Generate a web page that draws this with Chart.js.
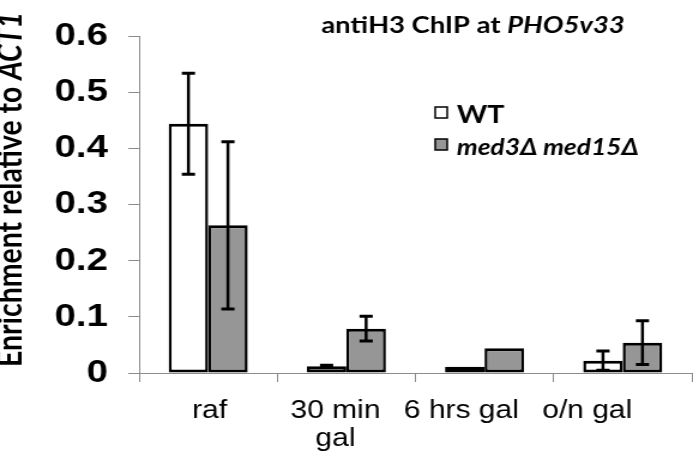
<!DOCTYPE html>
<html><head><meta charset="utf-8">
<script src="https://cdn.jsdelivr.net/npm/chart.js@4/dist/chart.umd.min.js"></script>
<style>
html,body{margin:0;padding:0;background:#fff;overflow:hidden;}
#wrap{width:578px;height:462px;transform:scaleX(1.19896);transform-origin:0 0;}
</style></head><body>
<div id="wrap"><canvas id="c" width="578" height="462"></canvas></div>
<script>
const categories = ['raf', ['30 min', 'gal'], '6 hrs gal', 'o/n gal'];
const seriesNames = ['WT', 'med3Δ med15Δ'];
const wtValues = [0.444, 0.012, 0.011, 0.022];
const wtErrors = [0.090, 0.002, 0, 0.017];
const medValues = [0.263, 0.079, 0.044, 0.054];
const medErrors = [0.149, 0.022, 0, 0.039];
const yTicks = [0, 0.1, 0.2, 0.3, 0.4, 0.5, 0.6];
const titleRuns = [['antiH3 ChIP at ', false], ['PHO5v33', true]];
const yTitleRuns = [['Enrichment relative to ', false], ['ACT1', true]];

const HUM = 'Lato, "Open Sans", sans-serif';
const ARIAL = '"Liberation Sans", Arial, sans-serif';
const AXIS = '#8c8c8c';

function runs(ctx, list, size, x, y) {
  list.forEach(([t, it]) => {
    ctx.font = (it ? 'italic ' : '') + 'bold ' + size + 'px ' + HUM;
    ctx.fillText(t, x, y);
    x += ctx.measureText(t).width;
  });
}
function runsWidth(ctx, list, size) {
  let w = 0;
  list.forEach(([t, it]) => {
    ctx.font = (it ? 'italic ' : '') + 'bold ' + size + 'px ' + HUM;
    w += ctx.measureText(t).width;
  });
  return w;
}
function fitSize(ctx, list, target) {
  return 20 * target / runsWidth(ctx, list, 20);
}

const overlay = {
  id: 'overlay',
  afterDatasetsDraw(chart) {
    const ctx = chart.ctx, ys = chart.scales.y;
    const errs = [wtErrors, medErrors];
    chart.data.datasets.forEach((ds, di) => {
      const meta = chart.getDatasetMeta(di);
      meta.data.forEach((bar, i) => {
        const e = errs[di][i];
        if (!e) return;
        const v = ds.data[i];
        const yt = ys.getPixelForValue(v + e), yb = ys.getPixelForValue(v - e);
        ctx.save();
        ctx.strokeStyle = '#000';
        ctx.lineWidth = 2.5;
        ctx.beginPath(); ctx.moveTo(bar.x, yt); ctx.lineTo(bar.x, yb); ctx.stroke();
        ctx.lineWidth = 3;
        ctx.beginPath();
        ctx.moveTo(bar.x - 5.5, yt); ctx.lineTo(bar.x + 5.5, yt);
        ctx.moveTo(bar.x - 5.5, yb); ctx.lineTo(bar.x + 5.5, yb);
        ctx.stroke();
        ctx.restore();
      });
    });
  },
  afterDraw(chart) {
    const ctx = chart.ctx, xs = chart.scales.x, area = chart.chartArea;
    ctx.save();
    ctx.fillStyle = '#000';
    ctx.textBaseline = 'alphabetic';
    ctx.textAlign = 'left';
    // title
    runs(ctx, titleRuns, fitSize(ctx, titleRuns, 253), 268, 33);
    // legend
    const rows = [[107, 123], [139, 155]];
    const legSize = fitSize(ctx, [[seriesNames[1], true]], 152);
    chart.data.datasets.forEach((ds, di) => {
      const [by, ty] = rows[di];
      ctx.fillStyle = ds.backgroundColor;
      ctx.fillRect(363, by, 10, 11);
      ctx.strokeStyle = '#000'; ctx.lineWidth = 1.5;
      ctx.strokeRect(363, by, 10, 11);
      ctx.fillStyle = '#000';
      runs(ctx, [[ds.label, di === 1]], di === 0 ? legSize * 1.1 : legSize, 381, ty);
    });
    // y title
    ctx.save();
    ctx.translate(18, 189.5);
    ctx.rotate(-Math.PI / 2);
    const ySize = fitSize(ctx, yTitleRuns, 355);
    const w = runsWidth(ctx, yTitleRuns, ySize);
    runs(ctx, yTitleRuns, ySize, -w / 2, 0);
    ctx.restore();
    // x labels
    ctx.font = '25px ' + ARIAL;
    ctx.textAlign = 'center';
    const L = area.left;
    chart.data.labels.forEach((lab, i) => {
      const cx = xs.getPixelForValue(i);
      const lx = L + 0.911 * (cx - L) + 6.3;
      const lines = Array.isArray(lab) ? lab : [lab];
      lines.forEach((t, k) => ctx.fillText(t, lx, 418 + k * 28));
    });
    ctx.restore();
  }
};

new Chart(document.getElementById('c'), {
  type: 'bar',
  data: {
    labels: categories,
    datasets: [
      { label: seriesNames[0], data: wtValues, backgroundColor: '#ffffff', borderColor: '#000',
        borderWidth: { top: 3, bottom: 3, left: 2.5, right: 2.5 }, borderSkipped: false,
        categoryPercentage: 0.572, barPercentage: 1 },
      { label: seriesNames[1], data: medValues, backgroundColor: '#969696', borderColor: '#000',
        borderWidth: { top: 3, bottom: 3, left: 2.5, right: 2.5 }, borderSkipped: false,
        categoryPercentage: 0.572, barPercentage: 1 }
    ]
  },
  options: {
    responsive: false,
    animation: false,
    devicePixelRatio: 1,
    layout: { padding: { top: 15, right: 1, left: 0, bottom: 0 } },
    plugins: { legend: { display: false }, tooltip: { enabled: false }, title: { display: false } },
    scales: {
      x: {
        grid: { drawOnChartArea: false, drawTicks: true, tickLength: 9, color: AXIS, offset: true },
        border: { color: AXIS, width: 1 },
        ticks: { display: false },
        afterFit: s => { s.height = 89; }
      },
      y: {
        min: 0, max: 0.6,
        afterBuildTicks: s => { s.ticks = yTicks.map(v => ({ value: v })); },
        grid: { drawOnChartArea: false, drawTicks: true, tickLength: 9, color: AXIS },
        border: { color: AXIS, width: 1 },
        ticks: { color: '#000', padding: 17, font: { family: ARIAL, size: 32, weight: 'bold' },
          callback: v => String(v) },
        afterFit: s => { s.width = 116; }
      }
    }
  },
  plugins: [overlay]
});
</script>
</body></html>
